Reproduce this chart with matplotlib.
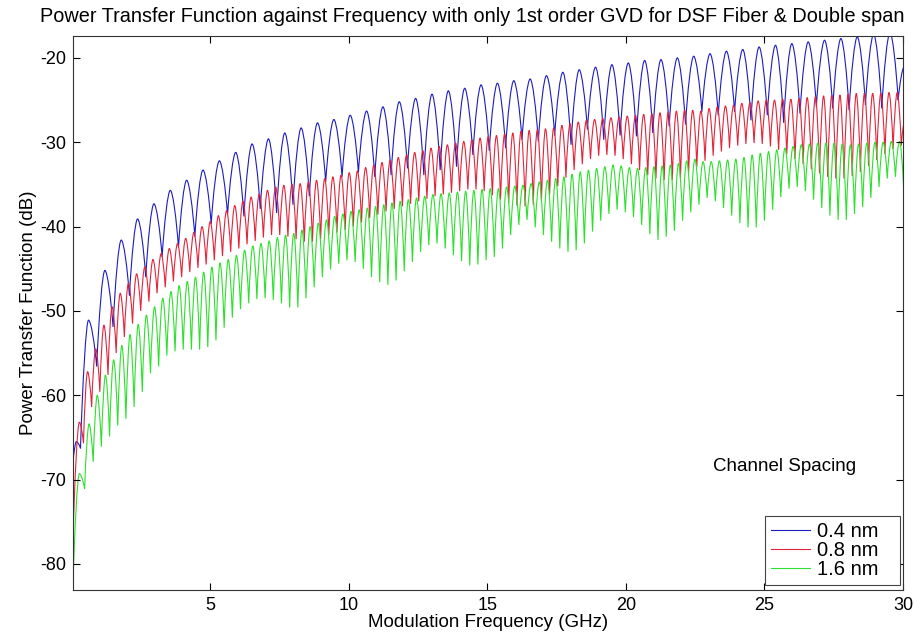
import numpy as np
import matplotlib
matplotlib.use("Agg")
import matplotlib.pyplot as plt
from matplotlib.path import Path
from matplotlib.patches import PathPatch
from matplotlib.lines import Line2D

plt.rcParams['font.family'] = ['Liberation Sans', 'DejaVu Sans']
plt.rcParams['axes.unicode_minus'] = False

# ---- data (dB at each ripple peak / trough) ----
# 0.4 nm : ripple period ~0.59 GHz
blue_f0, blue_period = 0.62, 0.59
blue_peaks = [-51.1, -45.2, -41.6, -39.1, -37.3, -35.7, -34.5, -33.3, -32.2, -31.2, -30.2, -29.6,
              -28.9, -28.3, -27.7, -27.3, -26.8, -26.3, -25.8, -25.2, -24.8, -24.3, -23.9, -23.6, -23.2,
              -23.0, -22.7, -22.5, -22.1, -21.7, -21.4, -21.1, -20.8, -20.6, -20.3, -20.2, -20.0, -19.8,
              -19.5, -19.2, -19.0, -18.7, -18.5, -18.3, -18.1, -17.9, -17.7, -17.5, -17.2, -17.0]
blue_troughs = [-56.6, -51.9, -48.2, -46.0, -43.6, -42.5, -41.2, -39.7, -38.6, -38.8, -37.9, -38.4,
                -37.4, -36.4, -34.7, -34.1, -33.6, -34.1, -33.9, -33.1, -33.9, -33.3, -32.9, -31.5,
                -31.0,
                -30.7, -29.7, -29.9, -29.2, -30.3, -28.5, -29.7, -29.2, -29.3, -28.9, -28.1, -27.9,
                -26.4, -26.8, -26.4, -27.4, -26.8, -27.7, -26.6, -25.8, -26.0, -26.2, -25.6, -26.0, -25.0]
blue_head_f, blue_head = [0.06, 0.18, 0.33], [-68.0, -65.5, -66.3]
blue_tail_f, blue_tail = [30.05], [-21.0]

# 0.8 nm : ripple period ~0.295 GHz
red_f0, red_period = 0.29, 0.295
red_peaks = [-63.2, -57.2, -54.5, -51.7, -49.5, -47.9, -46.7, -45.6, -44.8, -43.9, -43.2, -42.6, -42.0,
             -41.4, -40.7, -40.0, -39.4, -38.7, -38.1, -37.5, -37.0, -36.5, -36.1, -35.7, -35.3,
             -35.1, -35.0, -34.9, -34.7, -34.5, -34.3, -34.1, -33.9, -33.6, -33.4, -33.0, -32.7, -32.4,
             -32.1, -31.8, -31.5, -31.2, -31.0, -30.7, -30.5, -30.3, -30.1, -29.9, -29.7, -29.5,
             -29.3, -29.2, -29.0, -28.9, -28.7, -28.6, -28.5, -28.4, -28.3, -28.0, -27.8, -27.6, -27.4,
             -27.3, -27.2, -27.1, -27.0, -26.9, -26.8, -26.7, -26.6, -26.5, -26.4, -26.3, -26.2,
             -26.2, -26.3, -26.0, -25.8, -25.7, -25.6, -25.4, -25.3, -25.1, -25.0, -25.0, -24.9, -24.9,
             -24.8, -24.7, -24.6, -24.5, -24.4, -24.4, -24.3, -24.2, -24.2, -24.2, -24.2, -24.1, -24.1]
red_troughs = [-65.7, -61.4, -59.6, -57.6, -55.0, -53.1, -51.5, -50.0, -48.9, -47.9, -47.2, -46.5, -46.0,
               -45.4, -44.9, -44.5, -44.0, -43.5, -43.0, -42.6, -42.1, -41.7, -41.3, -41.0, -41.0,
               -41.2, -41.5, -41.8, -41.8, -41.5, -41.0, -40.7, -40.4, -40.0, -39.5, -39.0, -38.6, -38.2,
               -37.9, -37.6, -37.3, -37.0, -36.7, -36.4, -36.2, -36.0, -35.8, -35.6, -35.6, -35.8,
               -36.3, -36.8, -37.2, -37.5, -37.6, -37.4, -37.0, -36.2, -35.2, -34.2, -33.3, -32.6, -32.0,
               -31.6, -31.5, -31.6, -32.0, -32.6, -33.3, -33.9, -34.3, -34.5, -34.5, -34.2, -33.6,
               -32.9, -32.2, -31.6, -31.1, -30.7, -30.4, -30.2, -30.1, -30.2, -30.5, -30.9, -31.4, -32.0,
               -32.6, -33.2, -33.7, -34.1, -34.3, -34.3, -34.0, -33.5, -32.8, -32.1, -31.4, -30.8, -30.4]
red_head_f, red_head = [0.06], [-77.0]
red_tail_f, red_tail = [30.09], [-27.0]

# 1.6 nm : ripple period ~0.295 GHz, trough depth beats every ~3.3 GHz
green_f0, green_period = 0.64, 0.2953
green_peaks = [-63.4, -60.0, -57.6, -55.8, -54.1, -52.8, -51.6, -50.5, -49.5, -48.5, -47.7, -47.0, -46.5,
               -46.0, -45.4, -44.8, -44.3, -43.9, -43.4, -42.8, -42.3, -42.0, -41.7, -41.3, -41.0,
               -40.8, -40.4, -40.0, -39.6, -39.2, -38.8, -38.5, -38.2, -38.0, -37.8, -37.6, -37.4, -37.2,
               -37.0, -36.8, -36.6, -36.4, -36.2, -36.1, -36.0, -35.9, -35.8, -35.7, -35.6, -35.5,
               -35.5, -35.3, -35.2, -35.1, -34.9, -34.7, -34.5, -34.3, -34.1, -33.8, -33.5, -33.3, -33.1,
               -32.9, -32.7, -32.8, -33.0, -33.1, -33.0, -32.9, -32.8, -32.7, -32.5, -32.2, -32.0,
               -32.3, -32.3, -32.2, -32.1, -32.0, -31.8, -31.5, -31.3, -31.1, -30.9, -30.7, -30.5, -30.3,
               -30.2, -30.1, -30.1, -30.1, -30.2, -30.3, -30.2, -30.1, -30.0, -30.0, -29.9, -29.9]
green_troughs = [-67.9, -66.1, -64.9, -63.6, -62.8, -61.4, -59.6, -57.4, -56.6, -55.3, -54.8, -54.6, -54.6,
                 -54.6, -54.3, -53.5, -52.0, -50.8, -49.8, -49.1, -48.6, -48.5, -48.7, -49.1, -49.6,
                 -49.6, -48.5, -47.2, -46.0, -45.1, -44.4, -44.0, -44.2, -45.0, -46.0, -46.6, -46.9, -46.4,
                 -45.3, -44.2, -43.0, -42.2, -42.0, -42.6, -43.4, -44.1, -44.6, -44.5, -44.0, -43.6,
                 -42.6, -41.0, -39.8, -39.2, -40.1, -41.0, -41.8, -42.6, -43.0, -42.8, -42.0, -40.6, -39.3,
                 -38.5, -38.0, -38.3, -38.9, -39.8, -40.9, -41.6, -41.2, -40.5, -39.3, -38.3, -37.4,
                 -36.6, -37.0, -37.8, -38.7, -39.6, -40.1, -40.1, -39.3, -38.0, -36.5, -35.5, -35.3, -35.8,
                 -36.8, -37.8, -38.7, -39.2, -39.2, -38.5, -37.7, -36.6, -35.3, -34.3, -34.1, -35.5]
green_head_f, green_head = [0.06, 0.29, 0.48], [-82.5, -69.3, -71.1]
green_tail_f, green_tail = [], []

labels = ['0.4 nm', '0.8 nm', '1.6 nm']
colors = ['#1c1cc4', '#e3243a', '#2ee02e']


def series(f0, period, peaks, troughs, head_f, head, tail_f, tail):
    n = len(peaks)
    pf = f0 + period * np.arange(n)
    f = np.empty(2 * n)
    v = np.empty(2 * n)
    f[0::2], f[1::2] = pf, pf + period / 2
    v[0::2], v[1::2] = peaks, troughs
    f = np.concatenate([head_f, f, tail_f])
    v = np.concatenate([head, v, tail])
    return f, v


def wave_path(f, v):
    # rounded tops, narrower notches: cubic segments between extremes
    verts = [(f[0], v[0])]
    codes = [Path.MOVETO]
    for x0, y0, x1, y1 in zip(f[:-1], v[:-1], f[1:], v[1:]):
        dx, dy = x1 - x0, y1 - y0
        if dy > 0:
            c1 = (x0 + 0.25 * dx, y0 + 0.5 * dy)
            c2 = (x1 - 0.3 * dx, y1)
        else:
            c1 = (x0 + 0.3 * dx, y0)
            c2 = (x1 - 0.25 * dx, y1 - 0.5 * dy)
        verts += [c1, c2, (x1, y1)]
        codes += [Path.CURVE4] * 3
    return Path(verts, codes)


fig = plt.figure(figsize=(9.14, 6.33), dpi=100)
ax = fig.add_axes([73 / 914, 1 - 590 / 633, 830 / 914, 554 / 633])

curves = [
    series(blue_f0, blue_period, blue_peaks, blue_troughs, blue_head_f, blue_head, blue_tail_f, blue_tail),
    series(red_f0, red_period, red_peaks, red_troughs, red_head_f, red_head, red_tail_f, red_tail),
    series(green_f0, green_period, green_peaks, green_troughs, green_head_f, green_head, green_tail_f, green_tail),
]
for (f, v), c in zip(curves, colors):
    ax.add_patch(PathPatch(wave_path(f, v), fill=False, edgecolor=c, lw=0.8))

ax.set_xlim(0.06, 30)
ax.set_ylim(-83.1, -17.4)
ax.set_xticks([5, 10, 15, 20, 25, 30])
ax.set_yticks([-80, -70, -60, -50, -40, -30, -20])
ax.tick_params(direction='in', top=True, right=True, length=5, width=0.8, labelsize=13, pad=5)
for s in ax.spines.values():
    s.set_linewidth(0.8)
    s.set_color('#333333')

ax.set_xlabel('Modulation Frequency (GHz)', fontsize=13.5, labelpad=0)
ax.set_ylabel('Power Transfer Function (dB)', fontsize=13.5, labelpad=2)
fig.text(472 / 914, 1 - 17 / 633, 'Power Transfer Function against Frequency with only 1st order GVD '
         'for DSF Fiber & Double span', ha='center', va='center', fontsize=14.3)

ax.text(23.15, -68.5, 'Channel Spacing', fontsize=13.5, ha='left', va='center')

handles = [Line2D([], [], color=c, lw=0.8) for c in colors]
leg = ax.legend(handles, labels, loc='lower right', bbox_to_anchor=(0.8337, 0.009, 0.1627, 0.12),
                mode='expand', borderaxespad=0, fancybox=False, edgecolor='#444444', framealpha=1,
                fontsize=14.5, handlelength=1.95, labelspacing=0.0, borderpad=0.3, handletextpad=0.35)
leg.get_frame().set_linewidth(0.8)

fig.savefig('out.png', dpi=100)
